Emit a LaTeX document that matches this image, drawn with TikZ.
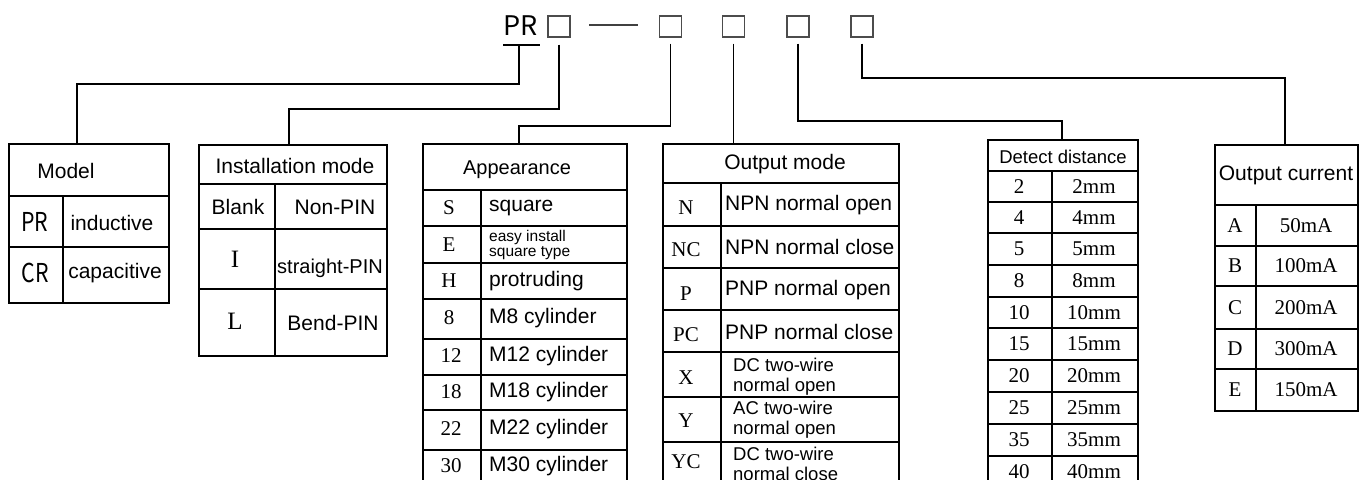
\documentclass[tikz,border=0pt]{standalone}
\usepackage{fontspec}
\setmainfont{Liberation Serif}
\newfontfamily\arial{Liberation Sans}
\newfontfamily\cjkfont{Noto Sans CJK SC}
\begin{document}
\begin{tikzpicture}[x=1pt,y=-1pt,
  sa/.style={font=\arial\fontsize{21}{24}\selectfont, inner sep=0},
  sah/.style={font=\arial\fontsize{20}{24}\selectfont, inner sep=0},
  sat/.style={font=\arial\fontsize{18.5}{20}\selectfont, inner sep=0, align=left, anchor=west},
  sas/.style={font=\arial\fontsize{15.5}{13}\selectfont, inner sep=0, align=left, anchor=west},
  tm/.style={font=\fontsize{21}{24}\selectfont, inner sep=0},
  tmb/.style={font=\fontsize{25}{28}\selectfont, inner sep=0},
  cj/.style={font=\cjkfont\fontsize{26}{28}\selectfont, inner sep=0},
  sq/.style={draw=black!70, line width=1.2pt, minimum width=22pt, minimum height=21pt, inner sep=0},
  tbl/.style={draw, line width=1.9pt, inner sep=0, anchor=north west},
  grid/.style={line width=1.5pt},
  conn/.style={line width=1.8pt}]
\fill[white] (0,0) rectangle (1367,479);
\useasboundingbox (0,0) rectangle (1367,479);

% ---------- top code line ----------
\node[cj, font=\cjkfont\fontsize{27}{28}\selectfont] (pr) at (521,26) {PR};
\node[sq] (b1) at (559,26.5) {};
\node[sq] (b2) at (670.5,26.5) {};
\node[sq] (b3) at (733.5,26.5) {};
\node[sq] (b4) at (798,26.5) {};
\node[sq] (b5) at (862,26.5) {};
\coordinate (d1) at (589,25);
\coordinate (d2) at (638,25);
\draw[line width=1.5pt, black!75] (d1) -- (d2);

% ---------- tables (outer frames) ----------
\node[tbl, minimum width=160pt, minimum height=159pt] (model) at (8,143) {};
\node[tbl, minimum width=188pt, minimum height=211pt] (inst) at (198,144) {};
\node[tbl, minimum width=204pt, minimum height=360pt] (app) at (422,143) {};
\node[tbl, minimum width=236pt, minimum height=360pt] (outm) at (662,143) {};
\node[tbl, minimum width=150pt, minimum height=360pt] (dist) at (987,139) {};
\node[tbl, minimum width=143pt, minimum height=266pt] (cur) at (1214,144) {};

% ---------- connectors ----------
\coordinate (prl) at (503,45);
\coordinate (prr) at (540,45);
\coordinate (prm) at (519,45);
\draw[conn] (prl) -- (prr);
\coordinate (j0) at (77,84);
\coordinate (j1) at (289,109);
\coordinate (j2) at (519,126);
\coordinate (j4) at (1062,121);
\coordinate (j5) at (1285,78);
\draw[conn] (prm) |- (j0) -- (j0 |- model.north);
\draw[conn, shorten <=7pt] (b1.south) |- (j1) -- (j1 |- inst.north);
\draw[conn, shorten <=6pt] (b2.south) |- (j2) -- (j2 |- app.north);
\draw[conn, shorten <=6pt] (b3.south) -- (b3.south |- outm.north);
\draw[conn, shorten <=6pt] (b4.south) |- (j4) -- (j4 |- dist.north);
\draw[conn, shorten <=6pt] (b5.south) |- (j5) -- (j5 |- cur.north);

% ---------- Model ----------
\draw[grid] (8,196) -- (168,196);
\draw[grid] (8,247) -- (168,247);
\draw[grid] (63,196) -- (63,302);
\node[sa] (tmodel) at (66,171) {Model};
\node[cj, xscale=0.82] (cpr) at (35,222) {PR};
\node[sa] (tind) at (112,223) {inductive};
\node[cj, xscale=0.82] (ccr) at (35,273) {CR};
\node[sa] (tcap) at (115,273) {capacitive};

% ---------- Installation mode ----------
\draw[grid] (198,184) -- (386,184);
\draw[grid] (198,229) -- (386,229);
\draw[grid] (198,289) -- (386,289);
\draw[grid] (275,184) -- (275,355);
\node[sa] (tinst) at (295,166) {Installation mode};
\node[sa] (tblank) at (238,207) {Blank};
\node[sa] (tnon) at (335,207) {Non-PIN};
\node[tmb] (ci) at (235,259) {I};
\node[sa, font=\arial\fontsize{20}{24}\selectfont] (tstr) at (330,268) {straight-PIN};
\node[tmb] (cl) at (235,321) {L};
\node[sa] (tbend) at (333,323) {Bend-PIN};

% ---------- Appearance ----------
\foreach \yy in {190,226,263,299,339,375,410,450} \draw[grid] (422,\yy) -- (626,\yy);
\draw[grid] (481,190) -- (481,503);
\node[sah] (tapp) at (517,170) {Appearance};
\node[tm] (cs) at (449,208) {S};
\node[sa, anchor=west] (tsq) at (489,208) {square};
\node[tm] (ce) at (449,245) {E};
\node[sas] (teasy) at (489,245) {easy install\\square type};
\node[tm] (ch) at (449,281) {H};
\node[sa, anchor=west] (tpro) at (489,281) {protruding};
\node[tm] (c8) at (449,318) {8};
\node[sa, anchor=west] (tm8) at (489,318) {M8 cylinder};
\node[tm] (c12) at (451,356) {12};
\node[sa, anchor=west] (tm12) at (489,356) {M12 cylinder};
\node[tm] (c18) at (451,392) {18};
\node[sa, anchor=west] (tm18) at (489,392) {M18 cylinder};
\node[tm] (c22) at (451,429) {22};
\node[sa, anchor=west] (tm22) at (489,429) {M22 cylinder};
\node[tm] (c30) at (451,466) {30};
\node[sa, anchor=west] (tm30) at (489,466) {M30 cylinder};

% ---------- Output mode ----------
\foreach \yy in {183,226,268,310,352,397,442} \draw[grid] (662,\yy) -- (898,\yy);
\draw[grid] (721,183) -- (721,503);
\node[sa] (tout) at (785,164) {Output mode};
\node[tm] (cn) at (686,208) {N};
\node[sa, anchor=west] (tnno) at (725,205) {NPN normal open};
\node[tm] (cnc) at (686,250) {NC};
\node[sa, anchor=west] (tnnc) at (725,247) {NPN normal close};
\node[tm] (cp) at (686,294) {P};
\node[sa, anchor=west] (tpno) at (725,290) {PNP normal open};
\node[tm] (cpc) at (686,335) {PC};
\node[sa, anchor=west] (tpnc) at (725,332) {PNP normal close};
\node[tm] (cx) at (686,378) {X};
\node[sat] (tx) at (733,377) {DC two-wire\\normal open};
\node[tm] (cy) at (686,421) {Y};
\node[sat] (ty) at (733,420) {AC two-wire\\normal open};
\node[tm] (cyc) at (686,462) {YC};
\node[sat] (tyc) at (733,464) {DC two-wire\\normal close};

% ---------- Detect distance ----------
\foreach \yy in {171,202,233,265,297,328,360,392,424,456} \draw[grid] (987,\yy) -- (1137,\yy);
\draw[grid] (1052,171) -- (1052,503);
\node[sa, font=\arial\fontsize{18.5}{20}\selectfont] (tdist) at (1063,157) {Detect distance};
\foreach \c/\yy [count=\i] in {2/186.5,4/217.5,5/249,8/281,10/312.5,15/344,20/376,25/408,35/440,40/472}
  \node[tm] (dc\i) at (1019,\yy) {\c};
\foreach \c/\yy [count=\i] in {2/186.5,4/217.5,5/249,8/281,10/312.5,15/344,20/376,25/408,35/440,40/472}
  \node[tm] (dv\i) at (1094,\yy) {\c mm};

% ---------- Output current ----------
\foreach \yy in {205,246,286,329,369} \draw[grid] (1214,\yy) -- (1357,\yy);
\draw[grid] (1256,205) -- (1256,410);
\node[sa] (tcur) at (1286,175) {Output current};
\foreach \c/\v/\yy [count=\i] in {A/50/225.5,B/100/266,C/200/307.5,D/300/349,E/150/389.5}
  \node[tm] (oc\i) at (1235,\yy) {\c};
\foreach \c/\v/\yy [count=\i] in {A/50/225.5,B/100/266,C/200/307.5,D/300/349,E/150/389.5}
  \node[tm] (ov\i) at (1306,\yy) {\v mA};
\end{tikzpicture}
\end{document}
